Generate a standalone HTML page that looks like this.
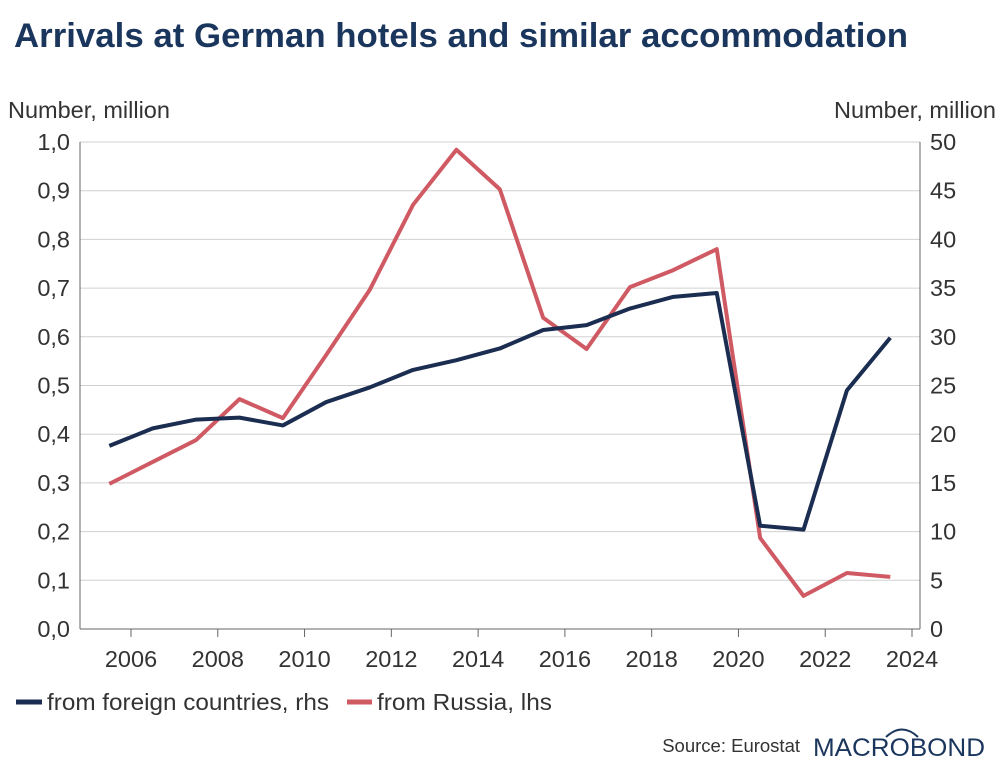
<!DOCTYPE html>
<html><head><meta charset="utf-8"><style>
body{margin:0;background:#fff;width:1000px;height:775px;overflow:hidden;font-family:"Liberation Sans",sans-serif}
</style></head><body>
<svg width="1000" height="775" xmlns="http://www.w3.org/2000/svg">
<text x="14" y="47" font-size="34.5" font-weight="bold" fill="#1b365d" textLength="894" lengthAdjust="spacingAndGlyphs">Arrivals at German hotels and similar accommodation</text>
<text x="8" y="118" font-size="23.5" fill="#333">Number, million</text>
<text x="996" y="118" font-size="23.5" fill="#333" text-anchor="end">Number, million</text>
<g id="grid"></g><g id="axes"></g><g id="series"></g>
<g>
<line x1="16" y1="702" x2="42" y2="702" stroke="#1b2d50" stroke-width="5"/>
<text x="47" y="710" font-size="23.5" fill="#333" textLength="282" lengthAdjust="spacingAndGlyphs">from foreign countries, rhs</text>
<line x1="347" y1="702" x2="372" y2="702" stroke="#d05a63" stroke-width="5"/>
<text x="377" y="710" font-size="23.5" fill="#333" textLength="175" lengthAdjust="spacingAndGlyphs">from Russia, lhs</text>
</g>
<text x="800" y="752" font-size="18.5" fill="#333" text-anchor="end">Source: Eurostat</text>
<text x="813" y="756" font-size="25" fill="#1b365d" textLength="172" lengthAdjust="spacingAndGlyphs">MACROBOND</text>
<path d="M886 737 Q902 722 918 737" fill="none" stroke="#1b365d" stroke-width="2"/>
</svg>
<script>
const years=[2005,2006,2007,2008,2009,2010,2011,2012,2013,2014,2015,2016,2017,2018,2019,2020,2021,2022,2023];
const russia=[0.298,0.343,0.388,0.472,0.433,0.563,0.696,0.871,0.984,0.903,0.639,0.575,0.702,0.737,0.780,0.187,0.068,0.115,0.107];
const foreign=[18.8,20.6,21.5,21.7,20.9,23.3,24.8,26.6,27.6,28.8,30.7,31.2,32.9,34.1,34.5,10.6,10.2,24.5,29.9];
const leftTicks=["0,0","0,1","0,2","0,3","0,4","0,5","0,6","0,7","0,8","0,9","1,0"];
const rightTicks=[0,5,10,15,20,25,30,35,40,45,50];
const xTicks=[2006,2008,2010,2012,2014,2016,2018,2020,2022,2024];
const NS="http://www.w3.org/2000/svg";
const X0=80,X1=920,Y0=629,Y1=142;
const xs=y=>131+(y-2006)*(781/18);
const yl=v=>Y0-(v/1.0)*(Y0-Y1);
const yr=v=>Y0-(v/50)*(Y0-Y1);
function mk(tag,attrs,parent){const e=document.createElementNS(NS,tag);for(const k in attrs)e.setAttribute(k,attrs[k]);parent.appendChild(e);return e;}
const grid=document.getElementById('grid'),axes=document.getElementById('axes'),ser=document.getElementById('series');
leftTicks.forEach((t,i)=>{const y=yl(i/10);
 const g=mk('line',{x1:X0,x2:X1,y1:y,y2:y,stroke:i==0?'#666':'#d0d0d0','stroke-width':1},grid);
 
 
 const tl=mk('text',{x:70,y:y+8,'font-size':23.5,fill:'#333','text-anchor':'end'},axes);tl.textContent=t;
 
 
});
rightTicks.forEach(v=>{const y=yr(v);
 const tr=mk('text',{x:930,y:y+8,'font-size':23.5,fill:'#333'},axes);tr.textContent=v;
 
 
});
const la=mk('line',{x1:X0,x2:X0,y1:Y1,y2:Y0,stroke:'#666'},axes);


const ra=mk('line',{x1:X1,x2:X1,y1:Y1,y2:Y0,stroke:'#666'},axes);


xTicks.forEach(yv=>{const x=xs(yv);
 const tk=mk('line',{x1:x,x2:x,y1:Y0,y2:Y0+8,stroke:'#666'},axes);
 
 
 const t=mk('text',{x:x,y:667,'font-size':23.5,fill:'#333','text-anchor':'middle'},axes);t.textContent=yv;
 
 
});
const pr=mk('polyline',{points:years.map((y,i)=>xs(y+0.5)+','+yl(russia[i])).join(' '),fill:'none',stroke:'#d05a63','stroke-width':4,'stroke-linejoin':'round'},ser);


const pf=mk('polyline',{points:years.map((y,i)=>xs(y+0.5)+','+yr(foreign[i])).join(' '),fill:'none',stroke:'#1b2d50','stroke-width':4,'stroke-linejoin':'round'},ser);


</script>
</body></html>
